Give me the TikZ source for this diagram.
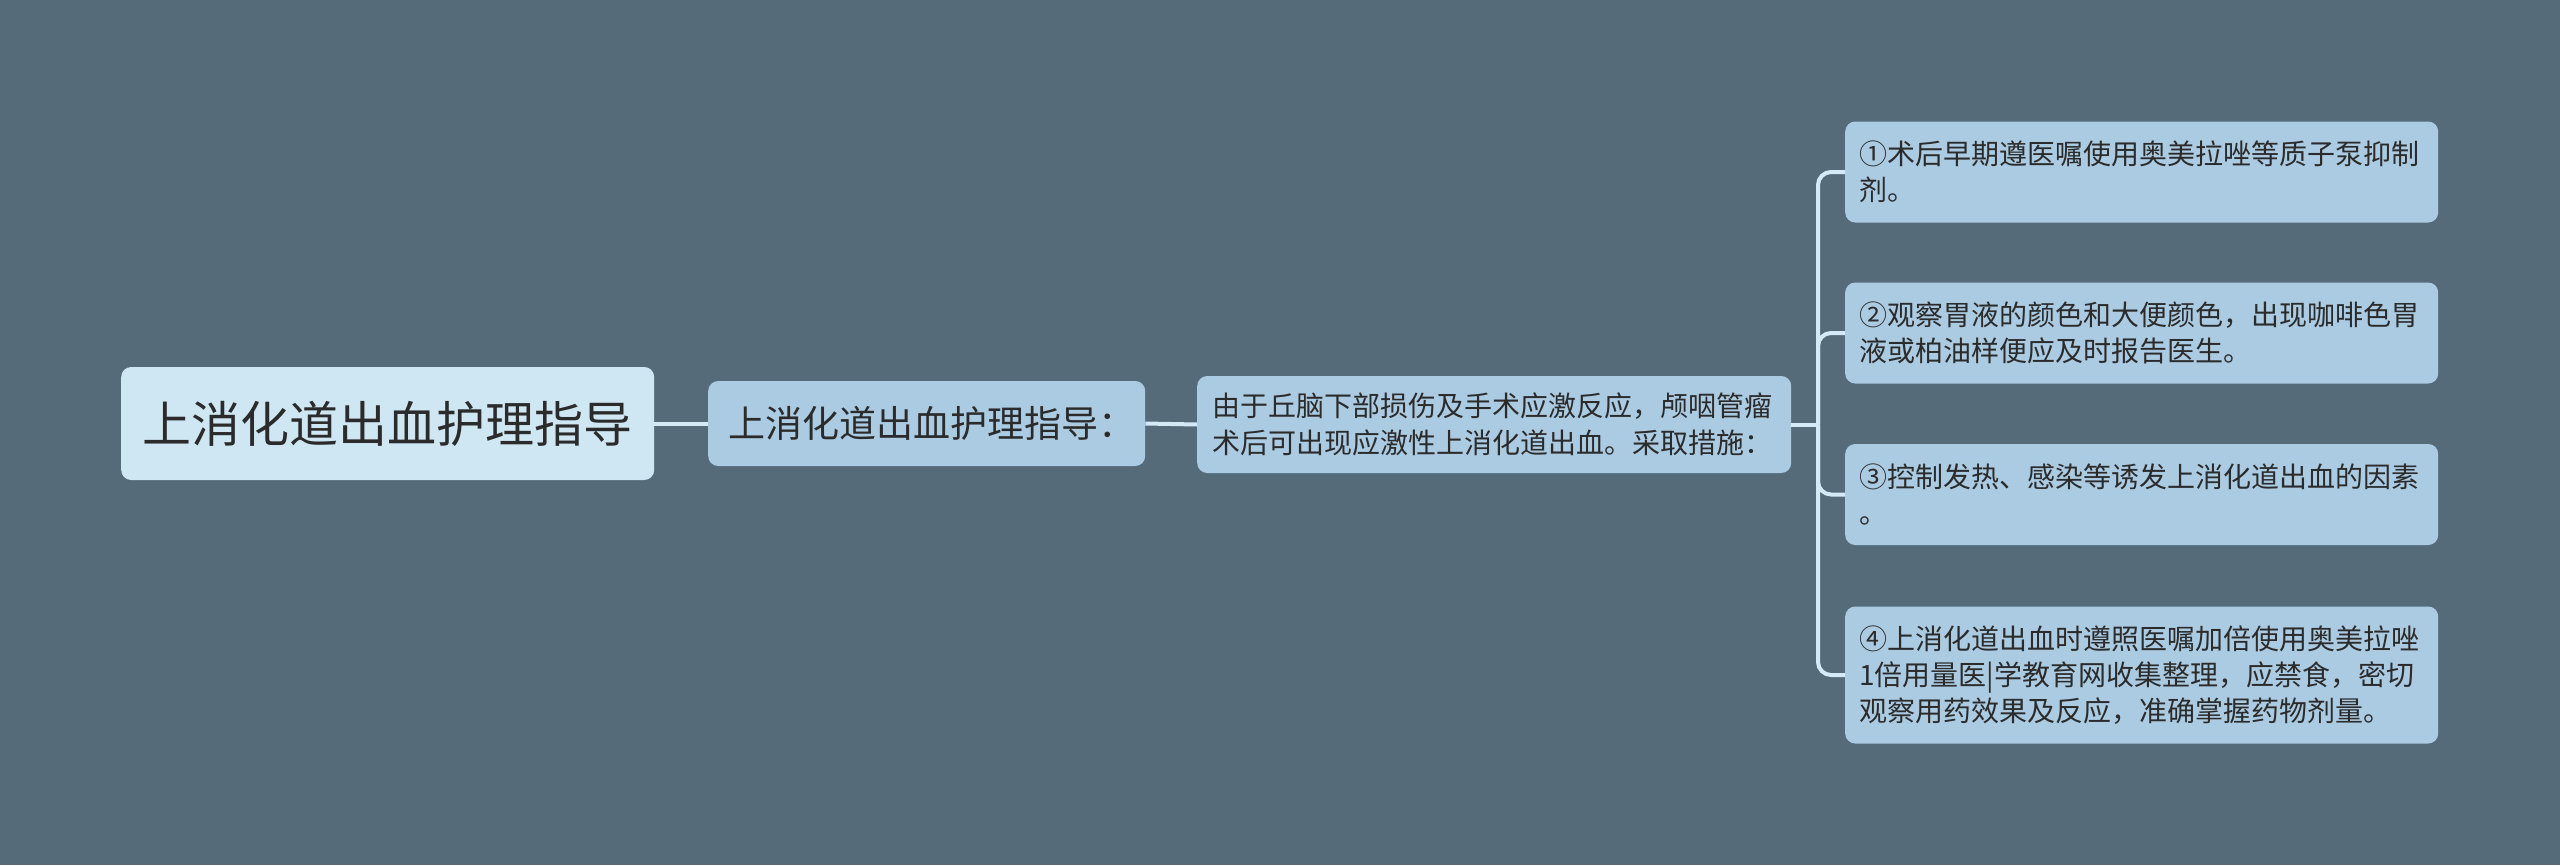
\documentclass[tikz,border=0pt]{standalone}
\usepackage{fontspec}
\newfontfamily\cjk{Noto Sans CJK SC}
\definecolor{mmback}{HTML}{566B7A}
\definecolor{mmroot}{HTML}{CFE6F3}
\definecolor{mmnode}{HTML}{ABCBE2}
\definecolor{mmline}{HTML}{D4EAF6}
\definecolor{mmtext}{HTML}{2B2B2B}

\begin{document}
\begin{tikzpicture}[x=1pt, y=-1pt,
    every node/.style={font=\cjk, text=mmtext},
    rootbox/.style={fill=mmroot, rounded corners=10pt, anchor=west, inner sep=0pt},
    topicbox/.style={fill=mmnode, rounded corners=10pt, anchor=west, align=left, inner ysep=0pt},
    leafbox/.style={topicbox, text width=565pt, inner xsep=14pt, minimum height=101pt,
        font=\cjk\fontsize{28pt}{36pt}\selectfont},
    link/.style={draw=mmline, line width=4pt},
    branch/.style={link, rounded corners=13pt}]
                % Background
                \useasboundingbox[fill=mmback] (0,0) rectangle (2560,865);

                % Central topic
                \node[rootbox, minimum width=533pt, minimum height=113pt,
                    font=\cjk\fontsize{49pt}{56pt}\selectfont] (root) at (121,423.5) {上消化道出血护理指导};

                % Main branch and its explanation
                \node[topicbox, text width=397pt, inner xsep=20pt, minimum height=85pt,
                    font=\cjk\fontsize{37pt}{44pt}\selectfont] (guide) at (708,423.5) {上消化道出血护理指导：};
                \node[topicbox, text width=564pt, inner xsep=15pt, minimum height=97pt,
                    font=\cjk\fontsize{28pt}{37pt}\selectfont] (cause) at (1197,424.5)
                    {由于丘脑下部损伤及手术应激反应，颅咽管瘤\\术后可出现应激性上消化道出血。采取措施：};

                % Measures
                \node[leafbox] (m1) at (1845,172) {①术后早期遵医嘱使用奥美拉唑等质子泵抑制\\剂。};
                \node[leafbox] (m2) at (1845,333) {②观察胃液的颜色和大便颜色，出现咖啡色胃\\液或柏油样便应及时报告医生。};
                \node[leafbox] (m3) at (1845,494.5) {③控制发热、感染等诱发上消化道出血的因素\\。};
                \node[leafbox, minimum height=137pt] (m4) at (1845,675)
                    {④上消化道出血时遵照医嘱加倍使用奥美拉唑\\1倍用量医|学教育网收集整理，应禁食，密切\\观察用药效果及反应，准确掌握药物剂量。};

                % Connectors
                \coordinate (fork) at (1818,424.5);
                \draw[link] (root.east) -- (guide.west);
                \draw[link] (guide.east) -- (cause.west);
                \draw[link] (cause.east) -- (fork);
                \foreach \m in {m1,m2,m3,m4}
                    \draw[branch] (fork) |- (\m.west);
            \end{tikzpicture}
\end{document}
